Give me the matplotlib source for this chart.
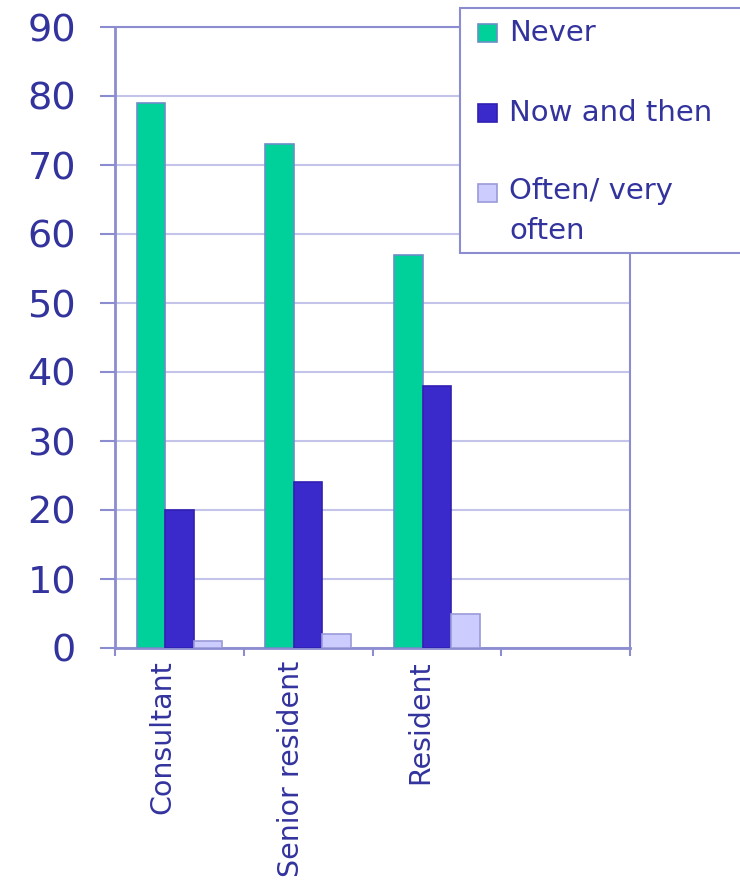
import matplotlib
matplotlib.use("Agg")
import matplotlib.pyplot as plt
import matplotlib.transforms as mtransforms
from matplotlib.patches import Rectangle
import numpy as np

categories = ["Consultant", "Senior resident", "Resident"]
series_names = ["Never", "Now and then", "Often/ very\noften"]
never = [79, 73, 57]
now_and_then = [20, 24, 38]
often = [1, 2, 5]
yticks = [0, 10, 20, 30, 40, 50, 60, 70, 80, 90]

W, H = 740, 883
fig = plt.figure(figsize=(W / 100, H / 100), dpi=100)

def fx(px):
    return px / W

def fy(py):
    return 1 - py / H

left, right, top, bottom = 115, 630, 27, 648
ax = fig.add_axes([fx(left), fy(bottom), fx(right) - fx(left), fy(top) - fy(bottom)])

txt_col = "#33339E"
grid_col = "#C4C4EA"
spine_col = "#8C8CD0"
colors = ["#00D09A", "#3A2ACC", "#CCCCFF"]
edges = ["#6A8FC8", "#3020B0", "#9A9AD8"]
series = [never, now_and_then, often]

n_slots = 4
x = np.arange(len(categories)) + 0.5
bw = 0.222
for k, vals in enumerate(series):
    ax.bar(x + (k - 1) * bw, vals, width=bw, color=colors[k], edgecolor=edges[k],
           linewidth=1.2, zorder=3)

ax.set_xlim(0, n_slots)
ax.set_ylim(0, 90)
ax.set_yticks(yticks)
ax.yaxis.grid(True, color=grid_col, linewidth=1.5, zorder=0)
ax.set_axisbelow(True)
for s in ax.spines.values():
    s.set_color(spine_col)
    s.set_linewidth(1.5)
ax.spines["left"].set_linewidth(2)
ax.spines["bottom"].set_linewidth(2)

ax.tick_params(axis="y", direction="out", length=11, width=1.5, color=spine_col,
               labelsize=27.5, labelcolor=txt_col, pad=17)
ax.set_xticks(np.arange(n_slots + 1))
ax.set_xticklabels([])
ax.tick_params(axis="x", which="major", direction="out", length=6, width=1.5, color=spine_col)
ax.set_xticks(x, minor=True)
ax.set_xticklabels(categories, minor=True, rotation=90, ha="center", va="top",
                   fontsize=20.5, color=txt_col)
ax.tick_params(axis="x", which="minor", length=0, pad=9)
offset = mtransforms.ScaledTranslation(-17 / 100, 0, fig.dpi_scale_trans)
for lab in ax.get_xticklabels(minor=True):
    lab.set_transform(lab.get_transform() + offset)

# legend drawn in figure pixels
lx0, ly0, lx1, ly1 = 460, 8, 746, 253
fig.patches.append(Rectangle((fx(lx0), fy(ly1)), fx(lx1) - fx(lx0), fy(ly0) - fy(ly1),
                             transform=fig.transFigure, facecolor="white",
                             edgecolor=spine_col, linewidth=1.5, zorder=5))
rows = [33, 113, 193]
for k, name in enumerate(series_names):
    cy = rows[k]
    fig.patches.append(Rectangle((fx(478), fy(cy + 9)), fx(497) - fx(478), fy(cy - 9) - fy(cy + 9),
                                 transform=fig.transFigure, facecolor=colors[k],
                                 edgecolor=edges[k], linewidth=1.2, zorder=6))
    if "\n" in name:
        fig.text(fx(509), fy(cy - 16), name, ha="left", va="top", fontsize=21,
                 color=txt_col, linespacing=1.55, zorder=7)
    else:
        fig.text(fx(509), fy(cy), name, ha="left", va="center", fontsize=21,
                 color=txt_col, zorder=7)

fig.savefig("out.png", dpi=100)
